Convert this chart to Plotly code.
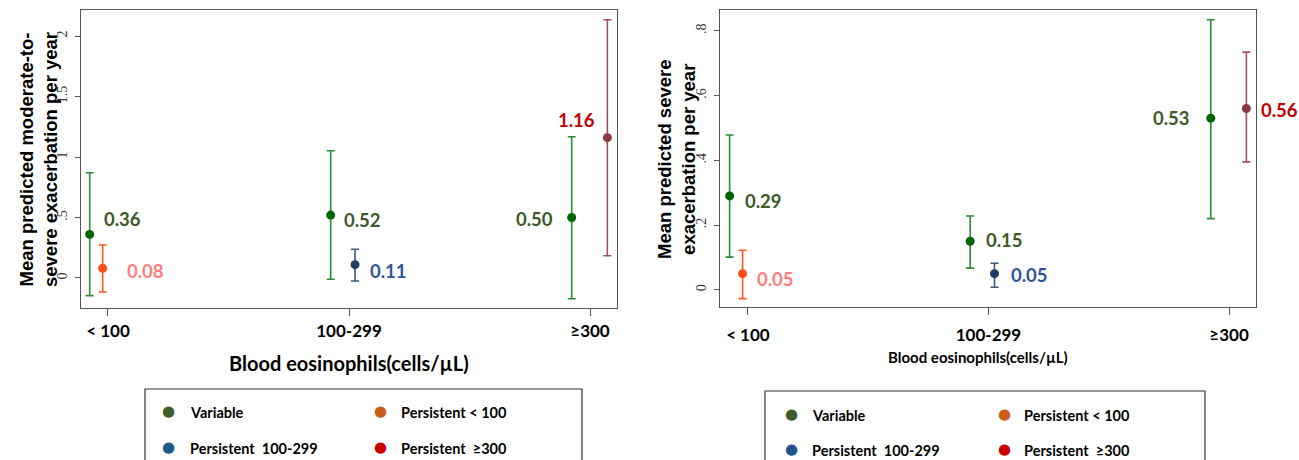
import plotly.graph_objects as go

# ---------------- data ----------------
categories = ["< 100", "100-299", "≥300"]
series_names = ["Variable", "Persistent < 100", "Persistent  100-299", "Persistent  ≥300"]

# moderate-to-severe (left panel)
mod_variable = [0.36, 0.52, 0.50]
mod_variable_lo = [-0.146, -0.01, -0.171]
mod_variable_hi = [0.87, 1.052, 1.168]
mod_p100 = [0.08]
mod_p100_lo = [-0.116]
mod_p100_hi = [0.273]
mod_p100_299 = [0.11]
mod_p100_299_lo = [-0.025]
mod_p100_299_hi = [0.237]
mod_p300 = [1.16]
mod_p300_lo = [0.184]
mod_p300_hi = [2.135]

# severe (right panel)
sev_variable = [0.29, 0.15, 0.53]
sev_variable_lo = [0.101, 0.067, 0.22]
sev_variable_hi = [0.478, 0.228, 0.834]
sev_p100 = [0.05]
sev_p100_lo = [-0.027]
sev_p100_hi = [0.122]
sev_p100_299 = [0.05]
sev_p100_299_lo = [0.008]
sev_p100_299_hi = [0.082]
sev_p300 = [0.56]
sev_p300_lo = [0.395]
sev_p300_hi = [0.734]

# category index of each series' points
cat_variable = [0, 1, 2]
cat_p100 = [0]
cat_p100_299 = [1]
cat_p300 = [2]

left_ticks = [0, 0.5, 1, 1.5, 2]
left_ticktext = ["0", ".5", "1", "1.5", "2"]
right_ticks = [0, 0.2, 0.4, 0.6, 0.8]
right_ticktext = ["0", ".2", ".4", ".6", ".8"]

# ---------------- styles ----------------
W, H = 1299, 460
def px(x):
    return x / W
def py(y):
    return 1 - y / H

offsets = {"var": -0.076, "p100": -0.022, "p100_299": 0.025, "p300": 0.072}
marker_col = {"var": "#006400", "p100": "#ff4d12", "p100_299": "#1b3f66", "p300": "#8e3a44"}
ci_col = {"var": "#2e8b35", "p100": "#ff5a22", "p100_299": "#3b5b7d", "p300": "#a0525c"}
label_col = {"var": "#3d5a26", "p100": "#ff7c80", "p100_299": "#2f5597", "p300": "#c00000"}
legend_col = ["#3f5e2b", "#c8601c", "#22568a", "#c80000"]
label_font = "Lato"

fig = go.Figure()

panels = [
    dict(xa="x", ya="y", data={
        "var": (cat_variable, mod_variable, mod_variable_lo, mod_variable_hi),
        "p100": (cat_p100, mod_p100, mod_p100_lo, mod_p100_hi),
        "p100_299": (cat_p100_299, mod_p100_299, mod_p100_299_lo, mod_p100_299_hi),
        "p300": (cat_p300, mod_p300, mod_p300_lo, mod_p300_hi),
    }, labels={
        ("var", 0): ("left", 12, 15), ("p100", 0): ("left", 22, -3),
        ("var", 1): ("left", 11, -5), ("p100_299", 0): ("left", 13, -6),
        ("var", 2): ("right", -17, -1), ("p300", 0): ("right", -10, 18),
    }),
    dict(xa="x2", ya="y2", data={
        "var": (cat_variable, sev_variable, sev_variable_lo, sev_variable_hi),
        "p100": (cat_p100, sev_p100, sev_p100_lo, sev_p100_hi),
        "p100_299": (cat_p100_299, sev_p100_299, sev_p100_299_lo, sev_p100_299_hi),
        "p300": (cat_p300, sev_p300, sev_p300_lo, sev_p300_hi),
    }, labels={
        ("var", 0): ("left", 13, -5), ("p100", 0): ("left", 12, -5),
        ("var", 1): ("left", 14, 1), ("p100_299", 0): ("left", 14, -1),
        ("var", 2): ("right", -19, 0), ("p300", 0): ("left", 13, -2),
    }),
]

keys = ["var", "p100", "p100_299", "p300"]
for p in panels:
    for k, name in zip(keys, series_names):
        cats, vals, lo, hi = p["data"][k]
        xs = [c + offsets[k] for c in cats]
        fig.add_trace(go.Scatter(
            x=xs, y=vals, mode="markers", name=name, showlegend=False,
            xaxis=p["xa"], yaxis=p["ya"],
            marker=dict(color=marker_col[k], size=9),
            error_y=dict(type="data", symmetric=False,
                         array=[h - v for h, v in zip(hi, vals)],
                         arrayminus=[v - l for v, l in zip(vals, lo)],
                         color=ci_col[k], thickness=1.6, width=4),
        ))
        for i, (x, v) in enumerate(zip(xs, vals)):
            anchor, dx, dy = p["labels"][(k, i)]
            fig.add_annotation(
                x=x, y=v, xref=p["xa"], yref=p["ya"], text=f"{v:.2f}",
                showarrow=False, xanchor=anchor, yanchor="middle",
                xshift=dx, yshift=dy,
                font=dict(family=label_font, size=18.5, color=label_col[k], weight="bold"),
            )

axis_common = dict(showline=True, mirror=True, linecolor="#555555", linewidth=1.4,
                   showgrid=False, zeroline=False, ticks="outside", tickcolor="#555555")

fig.update_layout(
    width=W, height=H, margin=dict(l=0, r=0, t=0, b=0),
    plot_bgcolor="white", paper_bgcolor="white", showlegend=False,
    xaxis=dict(domain=[px(81), px(617)], range=[-0.112, 2.112], anchor="y",
               tickvals=[0, 1, 2], ticktext=categories, ticklen=7,
               tickfont=dict(family=label_font, size=17, color="black", weight="bold"),
               ticklabelstandoff=0, **axis_common),
    yaxis=dict(domain=[py(308), py(10)], range=[-0.248, 2.215], anchor="x",
               tickvals=left_ticks, ticktext=left_ticktext, ticklen=5, tickangle=-90,
               tickfont=dict(family="Liberation Serif", size=14, color="#333333"),
               ticklabelstandoff=2, **axis_common),
    xaxis2=dict(domain=[px(720), px(1256)], range=[-0.116, 2.112], anchor="y2",
                tickvals=[0, 1, 2], ticktext=categories, ticklen=7,
                tickfont=dict(family=label_font, size=17, color="black", weight="bold"),
                ticklabelstandoff=5, **axis_common),
    yaxis2=dict(domain=[py(307), py(10)], range=[-0.053, 0.864], anchor="x2",
                tickvals=right_ticks, ticktext=right_ticktext, ticklen=5, tickangle=-90,
                tickfont=dict(family="Liberation Serif", size=14, color="#333333"),
                ticklabelstandoff=2, **axis_common),
)

# axis titles
def title(x, y, text, size, family=label_font, angle=0):
    fig.add_annotation(x=px(x), y=py(y), xref="paper", yref="paper", showarrow=False,
                       text=text, textangle=angle, xanchor="center", yanchor="middle",
                       font=dict(family=family, size=size, color="black", weight="bold"))

title(349, 363, "Blood eosinophils(cells/µL)", 20)
title(978, 357, "Blood eosinophils(cells/µL)", 15)
title(38, 160, "Mean predicted moderate-to-<br>severe exacerbation per year", 18.5,
      family="Liberation Sans", angle=-90)
title(676, 159, "Mean predicted severe<br>exacerbation per year", 18.5,
      family="Liberation Sans", angle=-90)

# legends (boxes below each panel)
legend_boxes = [
    dict(x0=145, x1=582, top=389, dots=[169, 381], texts=[188, 399], rows=[411, 447]),
    dict(x0=765, x1=1205, top=391, dots=[791, 1004], texts=[810, 1022], rows=[414, 449]),
]
for lb in legend_boxes:
    fig.add_shape(type="rect", xref="paper", yref="paper",
                  x0=px(lb["x0"]), x1=px(lb["x1"]), y0=py(lb["top"]), y1=py(480),
                  line=dict(color="#333333", width=1.2), fillcolor="rgba(0,0,0,0)")
    for idx, name in enumerate(series_names):
        r, c = divmod(idx, 2)
        fig.add_annotation(x=px(lb["dots"][c]), y=py(lb["rows"][r]), xref="paper", yref="paper",
                           showarrow=False, text="●", xanchor="center", yanchor="middle",
                           font=dict(family="DejaVu Sans", size=15, color=legend_col[idx]))
        fig.add_annotation(x=px(lb["texts"][c]), y=py(lb["rows"][r] + 1), xref="paper", yref="paper",
                           showarrow=False, text=name.replace("  ", "\u00a0\u00a0"),
                           xanchor="left", yanchor="middle",
                           font=dict(family=label_font, size=14.5, color="black", weight="bold"))

fig.write_html("out.html", config={"displayModeBar": False},
               post_script="document.body.style.margin='0';document.body.style.overflow='hidden';")
